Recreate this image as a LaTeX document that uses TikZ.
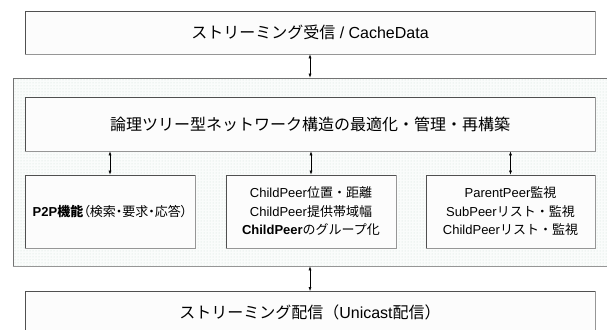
\documentclass[tikz,border=0pt]{standalone}
\usepackage{fontspec}
\setmainfont{Liberation Sans}
\newfontfamily\jp{Noto Sans CJK JP}
\newfontfamily\jpp{Noto Sans CJK JP}[RawFeature=+palt]
\newcommand\J[1]{{\jp #1}}
\newcommand\JP[1]{{\jpp #1}}
\usetikzlibrary{arrows.meta,patterns}
\definecolor{edgedark}{RGB}{80,80,80}
\definecolor{edgelight}{RGB}{150,150,150}
\definecolor{boxfill}{RGB}{252,252,252}
\definecolor{contfill}{RGB}{250,252,251}
\definecolor{dotcol}{RGB}{205,222,216}
\tikzset{
  box/.style={draw=edgedark, fill=boxfill, line width=0.8pt, inner sep=0pt, align=center},
  shade edge/.style={draw=edgelight, line width=1.4pt},
  container/.style={draw=edgedark!80, line width=0.8pt, fill=contfill,
    postaction={pattern=dots, pattern color=dotcol}, inner sep=0pt},
  biarrow/.style={draw=black, line width=0.5pt, {Latex[length=4pt,width=3pt]}-{Latex[length=4pt,width=3pt]}},
}
\begin{document}
\begin{tikzpicture}[x=1pt,y=-1pt]
\useasboundingbox (0,0) rectangle (607,329);
\clip (0,0) rectangle (607,329);
\fill[white] (0,0) rectangle (607,329);

% container
\node[container, minimum width=627pt, minimum height=188pt] (cont) at (326.5,172) {};

% top box
\node[box, minimum width=570pt, minimum height=43pt, font=\fontsize{16}{19}\selectfont] (top) at (310,32.5)
  {\J{ストリーミング受信} / CacheData};

% title box
\node[box, minimum width=570pt, minimum height=54pt, font=\fontsize{16}{19}\selectfont] (title) at (310,124)
  {\J{論理ツリー型ネットワーク構造の最適化・管理・再構築}};

% three boxes
\node[box, minimum width=170pt, minimum height=73pt, font=\fontsize{13}{18.5}\selectfont] (left) at (110,211.5)
  {\textbf{P2P}{\jpp\bfseries 機能}\JP{（検索・要求・応答）}};
\node[box, minimum width=170pt, minimum height=73pt, font=\fontsize{13}{18.5}\selectfont] (mid) at (311,211.5)
  {ChildPeer\J{位置・距離}\\ChildPeer\J{提供帯域幅}\\\textbf{ChildPeer}\J{のグループ化}};
\node[box, minimum width=169pt, minimum height=73pt, font=\fontsize{13}{18.5}\selectfont] (right) at (510.5,211.5)
  {ParentPeer\J{監視}\\SubPeer\J{リスト・監視}\\ChildPeer\J{リスト・監視}};

% bottom box
\node[box, anchor=north, minimum width=570pt, text height=26.7pt, text depth=22.3pt, font=\fontsize{16}{19}\selectfont] (bot) at (310,291)
  {\J{ストリーミング配信（}Unicast\J{配信）}};

% light lower/right edges
\foreach \n in {top,title,left,mid,right}{
  \draw[shade edge] (\n.south west) -- (\n.south east) -- (\n.north east);
}
\draw[shade edge] (bot.south east) -- (bot.north east);
\draw[draw=edgelight, line width=1.2pt] (cont.south west) -- (cont.south east);

% connectors
\draw[biarrow] (top.south) -- (top.south |- cont.north);
\draw[biarrow] (title.south -| left.north) -- (left.north);
\draw[biarrow] (title.south -| mid.north) -- (mid.north);
\draw[biarrow] (title.south -| right.north) -- (right.north);
\draw[biarrow] (bot.north |- cont.south) -- (bot.north);
\end{tikzpicture}
\end{document}
